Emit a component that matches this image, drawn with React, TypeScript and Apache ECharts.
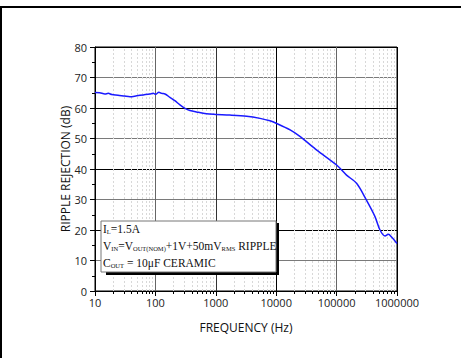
import React, { useEffect, useRef } from "react";
import * as echarts from "echarts";

const freqHz = [
  10, 12, 14.6, 16.6, 19, 24, 31, 38, 49, 63, 81, 92, 101, 114, 127, 144, 174, 210, 255, 309, 373, 482, 700,
  1000, 1700, 3250, 5400, 7900, 10000, 17000, 25000, 47000, 100000, 146000, 214000, 312000, 432000, 523000,
  634000, 720000, 820000, 1000000,
];
const rejectionDb = [
  65.1, 65.0, 64.6, 64.8, 64.4, 64.2, 63.9, 63.7, 64.0, 64.3, 64.6, 64.8, 64.5, 65.2, 64.8, 64.6, 63.5, 62.4,
  61.0, 59.9, 59.2, 58.7, 58.1, 57.9, 57.7, 57.3, 56.6, 55.8, 55.0, 52.8, 50.6, 46.2, 41.3, 38.0, 35.3, 29.8,
  24.4, 20.0, 18.0, 18.6, 17.6, 15.6,
];
const minorFreqs = [2, 3, 4, 5, 6, 7, 8, 9];
const decades = [10, 100, 1000, 10000, 100000];
const xAxisTitle = "FREQUENCY (Hz)";
const yAxisTitle = "RIPPLE REJECTION (dB)";

export default function App() {
  const ref = useRef<HTMLDivElement>(null);
  useEffect(() => {
    document.body.style.margin = "0";
    const chart = echarts.init(ref.current!, null, { renderer: "svg" });
    const minorLines: any[] = [];
    decades.forEach((d) => minorFreqs.forEach((m) => minorLines.push({ xAxis: d * m })));
    const sans = "Open Sans";
    const serif = "Liberation Serif";
    chart.setOption({
      animation: false,
      backgroundColor: "#fff",
      grid: { left: 95, top: 47, right: 64, bottom: 67, show: true, borderColor: "#000", borderWidth: 1 },
      xAxis: {
        type: "log",
        logBase: 10,
        min: 10,
        max: 1000000,
        name: xAxisTitle,
        nameLocation: "middle",
        nameGap: 30,
        nameMoveOverlap: false,
        nameTextStyle: { fontFamily: sans, fontSize: 12, color: "#111" },
        axisLine: { lineStyle: { color: "#000", width: 1 } },
        axisTick: { inside: false, length: 5, lineStyle: { color: "#000" } },
        minorTick: { show: true, splitNumber: 9, length: 3, lineStyle: { color: "#000" } },
        axisLabel: {
          fontFamily: sans,
          fontSize: 11,
          color: "#222",
          margin: 6,
          formatter: (v: number) => String(Math.round(v)),
        },
        splitLine: {
          show: true,
          lineStyle: { color: ["#000", "#666", "#333", "#000", "#666", "#000"], width: 1 },
        },
      },
      yAxis: {
        type: "value",
        min: 0,
        max: 80,
        interval: 10,
        name: yAxisTitle,
        nameLocation: "middle",
        nameGap: 24,
        nameMoveOverlap: false,
        nameTextStyle: { fontFamily: sans, fontSize: 12, color: "#111" },
        axisLine: { show: true, lineStyle: { color: "#000", width: 1 } },
        axisTick: { show: true, inside: false, length: 5, lineStyle: { color: "#000" } },
        minorTick: { show: true, splitNumber: 2, length: 3, lineStyle: { color: "#000" } },
        axisLabel: { fontFamily: sans, fontSize: 11, color: "#222", margin: 8 },
        splitLine: { show: true, lineStyle: { color: ["#000", "#7a7a7a"], width: 1 } },
      },
      series: [
        {
          type: "line",
          data: freqHz.map((f, i) => [f, rejectionDb[i]]),
          showSymbol: false,
          smooth: 0.3,
          lineStyle: { color: "#1a1aff", width: 1.5 },
          z: 5,
          markLine: {
            silent: true,
            symbol: "none",
            label: { show: false },
            lineStyle: { color: "#d8d8d8", type: [2, 2], width: 1 },
            data: minorLines,
          },
        },
      ],
      graphic: [
        { type: "rect", left: 0, top: 6, shape: { width: 461, height: 2 }, style: { fill: "#000" } },
        { type: "rect", left: 0, top: 6, shape: { width: 2, height: 352 }, style: { fill: "#000" } },
        {
          type: "rect",
          z: 10,
          shape: { x: 106, y: 223, width: 173, height: 52 },
          style: { fill: "#000" },
        },
        {
          type: "rect",
          z: 11,
          shape: { x: 101, y: 221, width: 175, height: 51 },
          style: { fill: "#fff", stroke: "#777", lineWidth: 1 },
        },
        {
          type: "text",
          z: 12,
          x: 103,
          y: 220,
          style: {
            text:
              "{m|I}{s|L}{m|=1.5A}\n{m|V}{s|IN}{m|=V}{s|OUT(NOM)}{m|+1V+50mV}{s|RMS}{m| RIPPLE}\n{m|C}{s|OUT}{m| = 10μF CERAMIC}",
            fill: "#111",
            rich: {
              m: { fontFamily: serif, fontSize: 11.5, lineHeight: 17, fill: "#111", verticalAlign: "middle" },
              s: { fontFamily: serif, fontSize: 6.5, lineHeight: 17, fill: "#111", verticalAlign: "bottom", padding: [0, 0, 2, 0] },
            },
          },
        },
      ],
    });
    return () => chart.dispose();
  }, []);
  return <div ref={ref} style={{ width: 461, height: 358 }} />;
}
